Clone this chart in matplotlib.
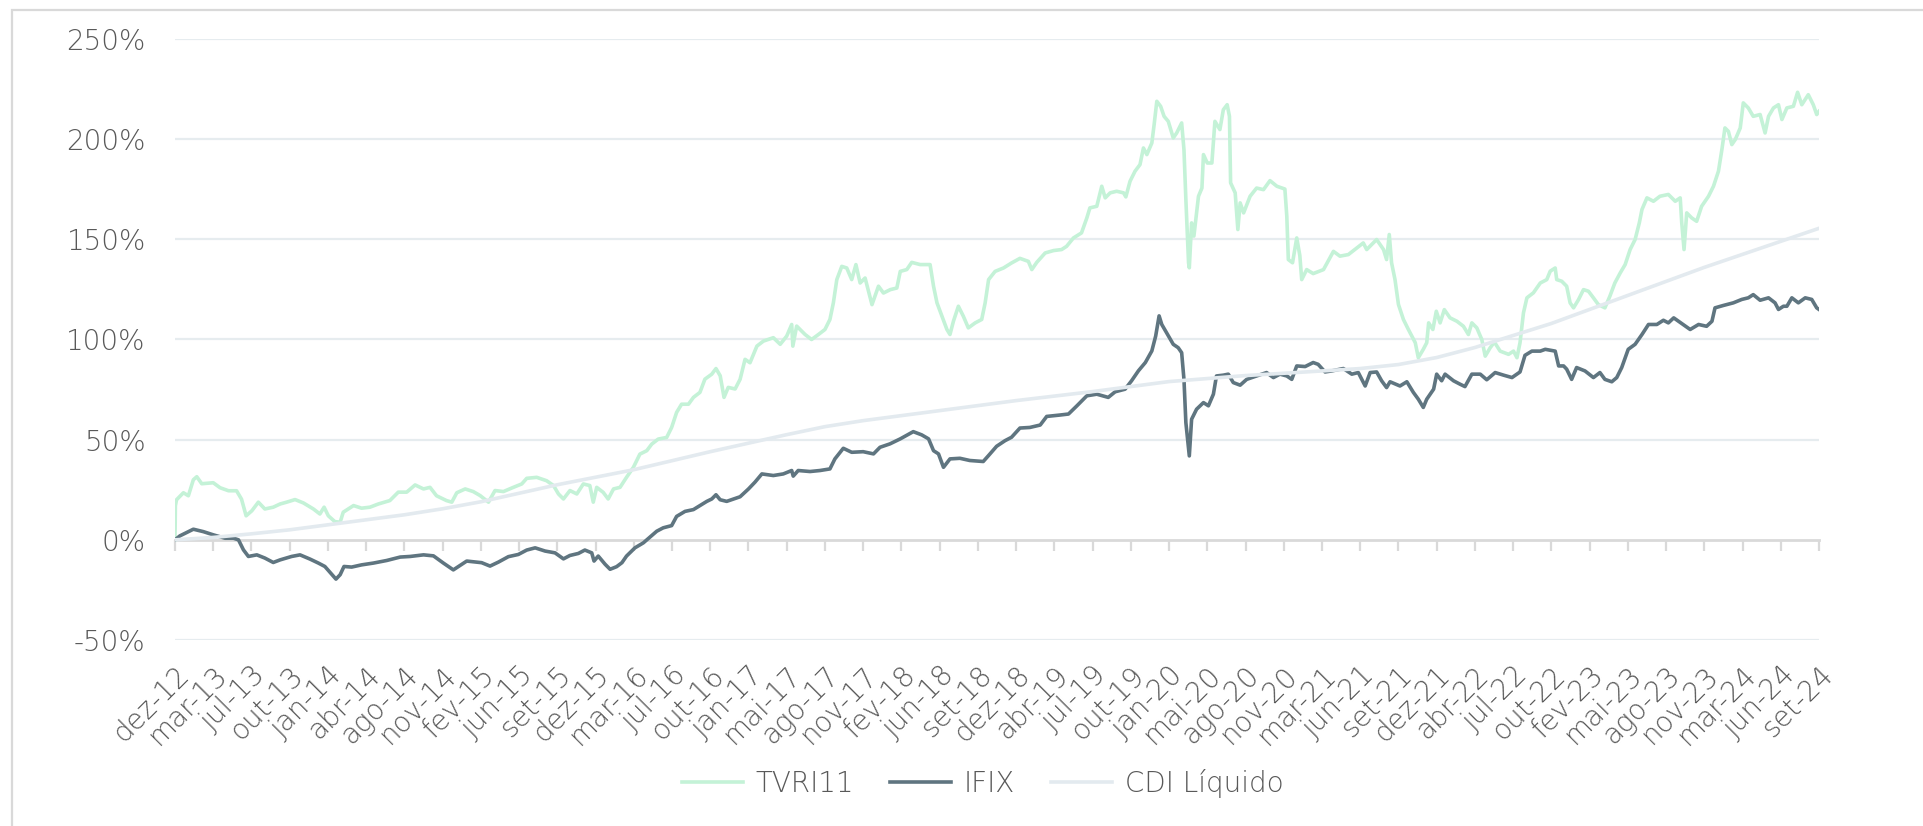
import matplotlib
matplotlib.use("Agg")
import matplotlib.pyplot as plt
from matplotlib.patches import Rectangle

# x positions are in units of the category ticks below (0 = dez-12, 43 = set-24)
tick_labels = ["dez-12", "mar-13", "jul-13", "out-13", "jan-14", "abr-14", "ago-14", "nov-14",
               "fev-15", "jun-15", "set-15", "dez-15", "mar-16", "jul-16", "out-16", "jan-17",
               "mai-17", "ago-17", "nov-17", "fev-18", "jun-18", "set-18", "dez-18", "abr-19",
               "jul-19", "out-19", "jan-20", "mai-20", "ago-20", "nov-20", "mar-21", "jun-21",
               "set-21", "dez-21", "abr-22", "jul-22", "out-22", "fev-23", "mai-23", "ago-23",
               "nov-23", "mar-24", "jun-24", "set-24"]

tvri_t = [0, 0.01, 0.04, 0.22, 0.35, 0.48, 0.57, 0.7, 1.0, 1.18, 1.4, 1.61, 1.74, 1.86, 2.01, 2.18,
          2.35, 2.57, 2.75, 2.92, 3.14, 3.36, 3.62, 3.79, 3.9, 4.01, 4.18, 4.32, 4.4, 4.67, 4.88,
          5.1, 5.32, 5.62, 5.84, 6.06, 6.28, 6.5, 6.67, 6.84, 7.1, 7.24, 7.37, 7.59, 7.8, 7.98,
          8.2, 8.37, 8.59, 8.85, 9.07, 9.2, 9.46, 9.72, 9.9, 10.03, 10.16, 10.33, 10.51, 10.68,
          10.85, 10.94, 11.03, 11.2, 11.33, 11.47, 11.64, 11.81, 11.99, 12.16, 12.34, 12.47,
          12.64, 12.86, 12.99, 13.12, 13.25, 13.43, 13.56, 13.73, 13.86, 14.04, 14.15, 14.26,
          14.36, 14.47, 14.65, 14.78, 14.91, 15.04, 15.22, 15.39, 15.65, 15.83, 16.0, 16.13,
          16.16, 16.26, 16.48, 16.65, 16.83, 17.0, 17.13, 17.22, 17.31, 17.44, 17.57, 17.7,
          17.81, 17.92, 18.05, 18.23, 18.4, 18.53, 18.71, 18.88, 18.97, 19.14, 19.27, 19.49,
          19.75, 19.84, 19.93, 20.06, 20.19, 20.27, 20.36, 20.49, 20.62, 20.75, 20.93, 21.1,
          21.19, 21.28, 21.45, 21.67, 21.88, 22.1, 22.32, 22.41, 22.54, 22.76, 22.98, 23.19,
          23.32, 23.5, 23.71, 23.85, 23.93, 24.11, 24.24, 24.33, 24.46, 24.63, 24.81, 24.87,
          24.98, 25.11, 25.24, 25.33, 25.42, 25.55, 25.61, 25.68, 25.78, 25.87, 25.98, 26.11,
          26.2, 26.33, 26.39, 26.44, 26.51, 26.53, 26.59, 26.65, 26.77, 26.86, 26.9, 27.0,
          27.12, 27.2, 27.33, 27.42, 27.52, 27.58, 27.61, 27.73, 27.8, 27.86, 27.95, 28.12,
          28.29, 28.47, 28.64, 28.82, 29.03, 29.08, 29.12, 29.23, 29.34, 29.42, 29.47, 29.6,
          29.77, 30.04, 30.3, 30.47, 30.69, 30.91, 31.08, 31.17, 31.43, 31.61, 31.69, 31.76,
          31.82, 31.91, 32.0, 32.13, 32.26, 32.44, 32.52, 32.65, 32.74, 32.79, 32.9, 32.99,
          33.09, 33.2, 33.35, 33.53, 33.7, 33.83, 33.92, 34.05, 34.18, 34.27, 34.4, 34.51,
          34.66, 34.88, 35.01, 35.1, 35.18, 35.27, 35.36, 35.53, 35.71, 35.88, 35.97, 36.1,
          36.14, 36.27, 36.4, 36.49, 36.58, 36.71, 36.84, 36.97, 37.1, 37.23, 37.4, 37.53,
          37.66, 37.8, 37.93, 38.06, 38.19, 38.3, 38.37, 38.5, 38.67, 38.84, 39.06, 39.24,
          39.37, 39.41, 39.47, 39.54, 39.67, 39.8, 39.93, 40.11, 40.24, 40.37, 40.46, 40.54,
          40.63, 40.72, 40.81, 40.94, 41.02, 41.15, 41.28, 41.46, 41.59, 41.68, 41.81, 41.94,
          42.03, 42.16, 42.33, 42.44, 42.55, 42.72, 42.85, 42.94, 43.0]
tvri_v = [0, 17, 20, 23.5, 22, 30, 31.5, 28, 28.5, 26, 24.5, 24.5, 20.3, 12, 14.5, 18.8,
          15.4, 16.3, 17.9, 18.8, 20.1, 18.4, 15.4, 12.9, 16.3, 12, 9.1, 8.8, 13.8, 17.1, 15.8,
          16.3, 17.9, 19.6, 23.8, 23.8, 27.4, 25.4, 26.2, 22, 19.6, 18.8, 23.5, 25.4, 24.1, 22.1,
          18.8, 24.6, 24.1, 26.2, 27.9, 30.7, 31.2, 29.5, 27.1, 22.9, 20.4, 24.6, 22.9, 27.9,
          27.1, 18.8, 26.2, 23.7, 20.4, 25.4, 26.2, 31.2, 36.2, 42.8, 44.5, 47.8,
          50.3, 51.1, 56.1, 63.6, 67.7, 67.7, 71.1, 73.6, 80.2, 82.7, 85.5, 81.9,
          71.1, 76.1, 75.3, 80.1, 90.1, 88.4, 96.7, 99.2, 100.9, 97.6, 101.7, 107.5,
          96.7, 106.7, 102.5, 100, 102.5, 105, 110, 118.3, 129.9, 136.5, 135.7, 129.9,
          137.4, 128.2, 130.7, 117.4, 126.6, 123.2, 124.9, 125.7, 134, 134.9, 138.5, 137.4,
          137.4, 126.6, 118.3, 111.6, 105, 102.5, 109.1, 116.6, 111.6, 105.8, 108.3, 110,
          118.3, 129.9, 134, 135.7, 138.2, 140.5, 139, 134.9, 138.5, 143.2, 144.4, 144.9,
          146.5, 150.7, 153.2, 160.7, 165.7, 166.5, 176.5, 170.7, 173.2, 174, 173.2, 171.2,
          179, 184, 187.3, 195.6, 192.3, 198.1, 207.3, 218.9, 216.4, 211.4, 208.9, 200.6,
          203.1, 208.1, 194.8, 169.9, 138.3, 135.8, 158.2, 151.6, 171.5, 175.6, 192.3, 188.1,
          188.1, 208.9, 204.8, 214.7, 217.2, 211.4, 178.2, 173.2, 154.9, 168.2, 163.2, 171.5,
          175.6, 174.8, 179.3, 176.5, 175.1, 161.5, 139.9, 138.3, 150.7, 142, 129.9, 134.9,
          132.9, 134.9, 144, 141.6, 142.4, 145.7, 148.2, 144.9, 149.9, 144.9, 139.9, 152.4,
          138.3, 129.9, 117.5, 110, 105, 98.4, 90.9, 95.1, 98.4, 108.3, 105, 114.1,
          108.3, 114.9, 110.8, 109.1, 106.6, 102.5, 108.3, 105.8, 100, 91.7, 95.9, 98.7,
          94.2, 92.6, 94.2, 90.9, 98.4, 113.3, 120.8, 123.3, 128.2, 129.9, 134.1, 135.7,
          129.9, 129.1, 126.6, 118.3, 115.8, 119.9, 124.9, 124.1, 120.8, 117.4, 115.8, 121.6,
          128.2, 133.2, 137.4, 144.9, 149.9, 158.2, 164.9, 170.7, 169, 171.5, 172.4, 169,
          170.7, 158.2, 144.9, 163.2, 160.7, 159, 166.5, 171.5, 176.5, 184, 194.8, 205.6,
          203.9, 197.3, 199.8, 205.6, 218.1, 215.6, 211.4, 212.3, 203.1, 211.4, 215.6, 217.2,
          209.8, 215.6, 216.4, 223.4, 217.2, 222.2, 217.2, 212.3, 213.9]

ifix_t = [0, 0.13, 0.48, 0.74, 1.0, 1.31, 1.53, 1.66, 1.79, 1.92, 2.14, 2.35, 2.57, 2.75, 3.05,
          3.27, 3.53, 3.75, 3.92, 4.07, 4.21, 4.32, 4.42, 4.62, 4.88, 5.19, 5.54, 5.89, 6.15,
          6.5, 6.76, 7.02, 7.28, 7.44, 7.63, 8.02, 8.24, 8.46, 8.72, 8.98, 9.2, 9.42, 9.68,
          9.94, 10.16, 10.33, 10.55, 10.72, 10.9, 10.96, 11.07, 11.25, 11.38, 11.55, 11.69,
          11.81, 12.03, 12.25, 12.43, 12.6, 12.77, 12.99, 13.12, 13.34, 13.56, 13.73, 13.91,
          14.04, 14.15, 14.26, 14.43, 14.61, 14.78, 15.0, 15.17, 15.35, 15.65, 15.91, 16.13,
          16.17, 16.3, 16.61, 16.87, 17.13, 17.26, 17.48, 17.7, 18.0, 18.27, 18.44, 18.7,
          18.97, 19.31, 19.53, 19.71, 19.84, 19.97, 20.1, 20.27, 20.53, 20.79, 21.14, 21.28,
          21.49, 21.71, 21.88, 22.1, 22.36, 22.63, 22.8, 23.15, 23.37, 23.59, 23.85, 24.11,
          24.41, 24.59, 24.85, 25.02, 25.2, 25.38, 25.55, 25.65, 25.74, 25.81, 25.96, 26.11,
          26.24, 26.33, 26.39, 26.44, 26.53, 26.59, 26.72, 26.9, 27.03, 27.16, 27.24, 27.42,
          27.55, 27.68, 27.86, 28.03, 28.29, 28.55, 28.73, 28.9, 29.08, 29.21, 29.34, 29.56,
          29.77, 29.9, 30.08, 30.25, 30.56, 30.78, 30.95, 31.13, 31.26, 31.43, 31.56, 31.69,
          31.78, 32.04, 32.22, 32.39, 32.52, 32.65, 32.74, 32.92, 33.0, 33.13, 33.22, 33.44,
          33.61, 33.74, 33.92, 34.14, 34.31, 34.53, 34.75, 34.97, 35.18, 35.31, 35.49, 35.71,
          35.84, 36.1, 36.19, 36.32, 36.4, 36.53, 36.66, 36.88, 37.1, 37.27, 37.4, 37.58,
          37.71, 37.84, 38.01, 38.19, 38.37, 38.54, 38.76, 38.93, 39.06, 39.2, 39.41, 39.63,
          39.85, 40.06, 40.2, 40.28, 40.5, 40.76, 40.98, 41.15, 41.28, 41.46, 41.68, 41.85,
          41.94, 42.07, 42.16, 42.29, 42.46, 42.64, 42.81, 42.94, 43.0]
ifix_v = [0, 2, 5.3, 4.1, 2.5, 0.8, 0.8, 0, -5, -8.3, -7.5, -9.1, -11.3, -10, -8.3,
          -7.5, -9.6, -11.6, -13.3, -16.6, -19.6, -17.4, -13.3, -13.6, -12.5, -11.6, -10.3, -8.6, -8.3,
          -7.5, -8, -11.6, -15, -13, -10.6, -11.4, -13.1, -11.1, -8.4, -7.3, -5.1, -4, -5.6,
          -6.5, -9.5, -7.8, -6.8, -5.1, -6.5, -10.6, -8.1, -12.2, -14.7, -13.4, -11.4,
          -8.1, -4, -1.5, 1.5, 4.3, 6, 7.1, 11.7, 14.2, 15.1, 17.1, 19.2,
          20.4, 22.5, 20, 19.2, 20.4, 21.5, 25.4, 28.8, 32.9, 32.1, 32.9, 34.6,
          31.8, 34.6, 34.1, 34.6, 35.4, 40.4, 45.7, 43.7, 44, 42.9, 46.2, 47.9,
          50.4, 54, 52.4, 50.4, 44.5, 42.9, 36.2, 40.4, 40.7, 39.6, 39.1, 42.1,
          46.7, 49.5, 51.2, 55.8, 56.1, 57.3, 61.6, 62.3, 62.8, 66.9, 71.9, 72.7,
          71.1, 73.9, 75.2, 79.4, 84.4, 88.5, 94.3, 101.7, 111.8, 107.5, 102.5, 97.6,
          95.9, 93.4, 80.1, 58.5, 41.9, 60.2, 65.2, 68.5, 66.9, 72.7, 81.8, 82.2,
          82.7, 78.5, 77.2, 80.1, 81.8, 83.5, 81, 82.7, 81.8, 80.1, 86.8, 86.5,
          88.5, 87.6, 83.8, 84.3, 85.5, 82.7, 83.5, 76.8, 83.5, 83.8, 79.4, 76,
          78.9, 76.8, 78.9, 73.6, 70.2, 66.1, 70.2, 75.2, 82.7, 79.4, 82.7, 79.4,
          77.7, 76.5, 82.7, 82.7, 79.9, 83.5, 82.2, 81, 83.8, 92.1, 94.2, 94.2,
          95.1, 94.2, 86.8, 86.8, 85.2, 80.1, 86, 84.3, 81, 83.5, 80.1, 78.9,
          81, 86, 95.1, 97.6, 102.5, 107.5, 107.5, 109.6, 108.3, 110.8, 108, 105,
          107.5, 106.6, 109.1, 115.8, 117, 118.3, 120, 120.8, 122.4, 119.6, 120.8, 118.3,
          115, 116.6, 116.6, 120.8, 118.3, 120.8, 120, 115.8, 115]

cdi_t = [0, 1, 2, 3, 4, 5, 6, 7, 8, 10, 12, 14, 16, 17, 18, 20, 22, 24, 26, 28, 30, 31,
         32, 33, 34, 35, 36, 37, 38, 39, 40, 41, 42, 43]
cdi_v = [0, 1.2, 3, 5, 7.5, 10, 12.5, 15.5, 19, 27.5, 35, 44, 52.5, 56.5, 59.5, 64.5, 69.5,
         74, 79, 82, 84.3, 85.5, 87.5, 91, 96, 102, 108, 115, 122, 129, 136, 142.5, 149, 155.5]

series_names = ["TVRI11", "IFIX", "CDI Líquido"]
series_colors = ["#c4f2d7", "#5f7580", "#e3eaef"]

text_color = "#595959"
grid_color = "#e6ecef"
axis_color = "#d9d9d9"

plt.rcParams["font.family"] = ["DejaVu Sans"]
plt.rcParams["font.weight"] = "light"

fig = plt.figure(figsize=(19.23, 8.26), dpi=100)
ax = fig.add_axes([175 / 1923, 1 - 640 / 826, (1819 - 175) / 1923, (640 - 39) / 826])

# outer frame of the chart area
fig.patches.append(Rectangle((12 / 1923, -0.1), 1.2, 1.1 - 10 / 826, transform=fig.transFigure,
                             fill=False, edgecolor=axis_color, linewidth=1.6, zorder=0))

for i, (xs, ys) in enumerate([(tvri_t, tvri_v), (ifix_t, ifix_v), (cdi_t, cdi_v)]):
    ax.plot(xs, ys, color=series_colors[i], linewidth=2.6, label=series_names[i],
            solid_joinstyle="round", zorder=3 + i)

ax.set_xlim(0, 43)
ax.set_ylim(-50, 250)
ax.set_yticks([-50, 0, 50, 100, 150, 200, 250])
ax.set_yticklabels([f"{v}%" for v in [-50, 0, 50, 100, 150, 200, 250]])
for v in [-50, 50, 100, 150, 200, 250]:
    ax.axhline(v, color=grid_color, linewidth=1.6, zorder=1)

for s in ["top", "right", "left"]:
    ax.spines[s].set_visible(False)
ax.spines["bottom"].set_position(("data", 0))
ax.spines["bottom"].set_color(axis_color)
ax.spines["bottom"].set_linewidth(2.0)
ax.spines["bottom"].set_zorder(2)

ax.set_xticks(range(len(tick_labels)))
ax.tick_params(axis="x", direction="out", length=8, width=1.6, color=axis_color, labelbottom=False)
ax.tick_params(axis="y", length=0, pad=21, labelsize=20, labelcolor=text_color)

sec = ax.secondary_xaxis("bottom")
sec.spines["bottom"].set_visible(False)
sec.set_xticks(range(len(tick_labels)))
sec.set_xticklabels(tick_labels, rotation=45, ha="right", rotation_mode="anchor",
                    fontsize=20, color=text_color)
sec.tick_params(axis="x", length=0, pad=15)

fig.legend(loc="center", bbox_to_anchor=(0.511, 1 - 783 / 826), ncol=3, frameon=False,
           fontsize=20, labelcolor=text_color, handlelength=2.2, handletextpad=0.45,
           columnspacing=1.3)

fig.savefig("out.png", dpi=100, facecolor="white")
